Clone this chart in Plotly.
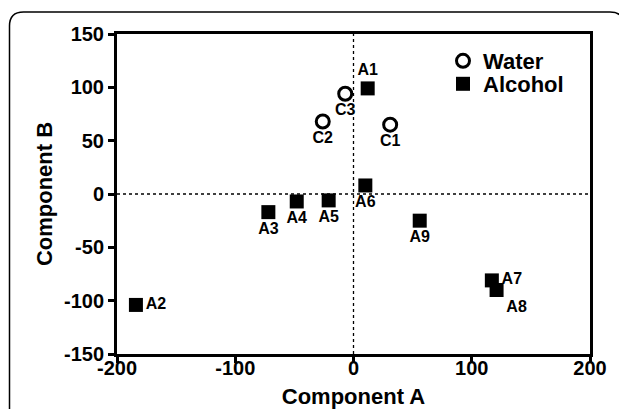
import plotly.graph_objects as go

water_labels = ["C1", "C2", "C3"]
water_x = [31, -26, -7]
water_y = [65, 68, 94]

alcohol_labels = ["A1", "A2", "A3", "A4", "A5", "A6", "A7", "A8", "A9"]
alcohol_x = [12, -184, -72, -48, -21, 10, 117, 121, 56]
alcohol_y = [99, -104, -17, -7, -6, 8, -81, -90, -25]

x_ticks = [-200, -100, 0, 100, 200]
y_ticks = [-150, -100, -50, 0, 50, 100, 150]

# page body has an 8px margin; work in screen pixels and convert
OFF = 8
W, H = 627 - OFF, 409 - OFF
ML, MR, MT, MB = 117 - OFF, 37, 34 - OFF, 55
PW, PH = W - ML - MR, H - MT - MB

FONT = "Liberation Sans, Arial, sans-serif"

water_pos = ["bottom center", "bottom center", "bottom center"]
alc_pos = ["top center", "middle right", "bottom center", "bottom center", "bottom center",
           "bottom center", "middle right", "bottom right", "bottom center"]

fig = go.Figure()
fig.add_trace(go.Scatter(
    x=water_x, y=water_y, mode="markers+text", name="<b>Water</b>", legend="legend",
    showlegend=True,
    text=["<b>%s</b>" % t for t in water_labels], textposition=water_pos,
    textfont=dict(family=FONT, size=16, color="black"),
    marker=dict(symbol="circle-open", size=13, color="black", line=dict(width=3, color="black")),
))
fig.add_trace(go.Scatter(
    x=alcohol_x, y=alcohol_y, mode="markers+text", name="<b>Alcohol</b>", legend="legend2",
    showlegend=True,
    text=["<b>%s</b>" % t for t in alcohol_labels], textposition=alc_pos,
    textfont=dict(family=FONT, size=16, color="black"),
    marker=dict(symbol="square", size=14, color="black"),
))

def px_x(p):
    # p in screen pixels
    return (p - OFF - ML) / PW

def px_y(p):
    return 1 - (p - OFF - MT) / PH

# rounded frame around the figure (screen pixel coords)
x0, y0, x1, y1, r = 9.5, 12, 624, 440, 14
path = (f"M {px_x(x0)},{px_y(y1)} L {px_x(x0)},{px_y(y0 + r)} "
        f"Q {px_x(x0)},{px_y(y0)} {px_x(x0 + r)},{px_y(y0)} "
        f"L {px_x(x1 - r)},{px_y(y0)} Q {px_x(x1)},{px_y(y0)} {px_x(x1)},{px_y(y0 + r)} "
        f"L {px_x(x1)},{px_y(y1)}")

shapes = [
    dict(type="path", xref="paper", yref="paper", path=path,
         line=dict(color="black", width=1.5), layer="below"),
    dict(type="line", xref="x", yref="paper", x0=0, x1=0, y0=0, y1=1,
         line=dict(color="black", width=1.3, dash="dot"), layer="below"),
    dict(type="line", xref="paper", yref="y", x0=0, x1=1, y0=0, y1=0,
         line=dict(color="black", width=1.3, dash="dot"), layer="below"),
]

axis_common = dict(
    showgrid=False, zeroline=False, showline=True, linecolor="black", linewidth=3,
    mirror=True, ticks="outside", ticklen=6, tickwidth=2.5, tickcolor="black",
    tickfont=dict(family=FONT, size=20, color="black", weight="bold"),
    automargin=False,
)

legend_common = dict(xanchor="left", yanchor="middle", bgcolor="rgba(0,0,0,0)",
                     font=dict(family=FONT, size=22, color="black"), itemsizing="trace")

fig.update_layout(
    width=W, height=H,
    margin=dict(l=ML, r=MR, t=MT, b=MB),
    paper_bgcolor="white", plot_bgcolor="white",
    font=dict(family=FONT, color="black"),
    showlegend=True,
    xaxis=dict(range=[-200, 200], tickvals=x_ticks, ticktext=[str(v) for v in x_ticks],
               ticklabelstandoff=-12,
               title=dict(text="<b>Component A</b>", font=dict(family=FONT, size=22), standoff=12),
               **axis_common),
    yaxis=dict(range=[-150, 150], tickvals=y_ticks, ticktext=[str(v) for v in y_ticks],
               ticklabelstandoff=0,
               title=dict(text="<b>Component B</b>", font=dict(family=FONT, size=22), standoff=6),
               **axis_common),
    legend=dict(x=px_x(443), y=px_y(61), **legend_common),
    legend2=dict(x=px_x(443), y=px_y(84), **legend_common),
    shapes=shapes,
)

fig.write_html("out.html")
